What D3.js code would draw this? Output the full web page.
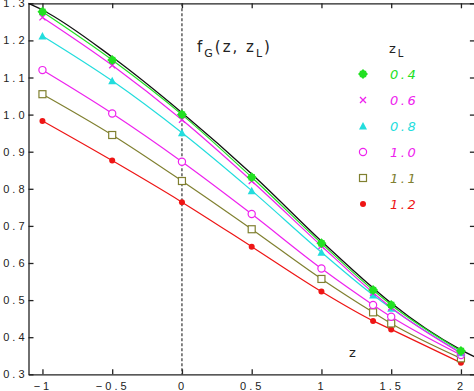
<!DOCTYPE html>
<html>
<head>
<meta charset="utf-8">
<script src="https://cdn.jsdelivr.net/npm/d3@7"></script>
<style>
  body { margin: 0; background: #fff; }
  svg { display: block; font-family: "DejaVu Sans", sans-serif; }
  .axis path, .axis line { stroke: #222; stroke-width: 1.3; }
  .axis text { font-size: 11px; fill: #222; letter-spacing: 3px; }
</style>
</head>
<body>
<div id="chart"></div>
<script>
// z values where each curve is sampled
var zPoints = [-1, -0.5, 0, 0.5, 1, 1.37, 1.5, 2];

// f_G(z, z_L) for each z_L
var zL04 = [1.277, 1.147, 1.000, 0.831, 0.653, 0.527, 0.487, 0.363];
var zL06 = [1.262, 1.133, 0.986, 0.821, 0.646, 0.520, 0.480, 0.357];
var zL08 = [1.212, 1.091, 0.951, 0.795, 0.629, 0.514, 0.478, 0.358];
var zL10 = [1.120, 1.003, 0.873, 0.732, 0.585, 0.487, 0.455, 0.352];
var zL11 = [1.055, 0.945, 0.821, 0.691, 0.557, 0.467, 0.437, 0.343];
var zL12 = [0.983, 0.876, 0.764, 0.644, 0.523, 0.444, 0.421, 0.331];

// black reference curve (no markers)
var refZ = [-1.1, -1, -0.5, 0, 0.5, 1, 1.37, 1.5, 2, 2.1];
var refF = [1.300, 1.282, 1.155, 1.005, 0.840, 0.659, 0.533, 0.492, 0.366, 0.347];

var legendLabels = ["0.4", "0.6", "0.8", "1.0", "1.1", "1.2"];
var xTicks = [-1, -0.5, 0, 0.5, 1, 1.5, 2];
var yTicks = [0.3, 0.4, 0.5, 0.6, 0.7, 0.8, 0.9, 1.0, 1.1, 1.2, 1.3];

var width = 474,
    height = 391;

var series = [
    { name: legendLabels[0], values: zL04, color: "#22e022", marker: "diamond" },
    { name: legendLabels[1], values: zL06, color: "#ee22ee", marker: "cross" },
    { name: legendLabels[2], values: zL08, color: "#22dddd", marker: "triangle" },
    { name: legendLabels[3], values: zL10, color: "#ee22ee", marker: "circle" },
    { name: legendLabels[4], values: zL11, color: "#808030", marker: "square" },
    { name: legendLabels[5], values: zL12, color: "#ee1515", marker: "dot" }
];

var x = d3.scaleLinear()
    .domain([-1.1, 2.1])
    .range([28.5, 474.9]);

var y = d3.scaleLinear()
    .domain([0.3, 1.3])
    .range([374.3, 3.3]);

var svg = d3.select("#chart").append("svg")
    .attr("width", width)
    .attr("height", height);

// axes, ticks pointing inward
svg.append("g").attr("class", "axis")
    .attr("transform", "translate(0," + y(0.3) + ")")
    .call(d3.axisBottom(x).tickValues(xTicks).tickSizeInner(-5).tickSizeOuter(0).tickPadding(8)
        .tickFormat(function(d) { return d3.format("")(d).replace("-", "\u2212"); }));

svg.append("g").attr("class", "axis")
    .attr("transform", "translate(0," + y(1.3) + ")")
    .call(d3.axisTop(x).tickValues(xTicks).tickSizeInner(-5).tickSizeOuter(0).tickFormat(""));

svg.append("g").attr("class", "axis")
    .attr("transform", "translate(" + x(-1.1) + ",0)")
    .call(d3.axisLeft(y).tickValues(yTicks).tickSizeInner(-5).tickSizeOuter(0).tickPadding(1)
        .tickFormat(d3.format(".1f")));

svg.append("g").attr("class", "axis")
    .attr("transform", "translate(" + x(2.1) + ",0)")
    .call(d3.axisRight(y).tickValues(yTicks).tickSizeInner(-5).tickSizeOuter(0).tickFormat(""));

svg.selectAll(".axis .domain").attr("fill", "none");

// dashed line at z = 0
svg.append("line")
    .attr("x1", x(0)).attr("x2", x(0))
    .attr("y1", y(1.3)).attr("y2", y(0.3))
    .attr("stroke", "#333")
    .attr("stroke-width", 1.2)
    .attr("stroke-dasharray", "3,2");

var line = d3.line()
    .x(function(d) { return x(d[0]); })
    .y(function(d) { return y(d[1]); })
    .curve(d3.curveMonotoneX);

// black curve
svg.append("path")
    .datum(d3.zip(refZ, refF))
    .attr("d", line)
    .attr("fill", "none")
    .attr("stroke", "#111")
    .attr("stroke-width", 1.3);

function drawMarker(g, type, color) {
    if (type === "diamond") {
        g.append("path").attr("d", "M0,-5L5,0L0,5L-5,0Z").attr("fill", color);
        g.append("rect").attr("x", -3.2).attr("y", -3.2).attr("width", 6.4).attr("height", 6.4).attr("fill", color);
    } else if (type === "cross") {
        g.append("path").attr("d", "M-3,-3L3,3M-3,3L3,-3").attr("stroke", color).attr("stroke-width", 1.3);
    } else if (type === "triangle") {
        g.append("path").attr("d", "M0,-4L4,3.5L-4,3.5Z").attr("fill", color);
    } else if (type === "circle") {
        g.append("circle").attr("r", 3.6).attr("fill", "#fff").attr("stroke", color).attr("stroke-width", 1.2);
    } else if (type === "square") {
        g.append("rect").attr("x", -3.5).attr("y", -3.5).attr("width", 7).attr("height", 7)
            .attr("fill", "#fff").attr("stroke", color).attr("stroke-width", 1.2);
    } else {
        g.append("circle").attr("r", 3).attr("fill", color);
    }
}

// draw from bottom series up so green sits on top
series.slice().reverse().forEach(function(s) {
    var pts = d3.zip(zPoints, s.values);
    svg.append("path")
        .datum(pts)
        .attr("d", line)
        .attr("fill", "none")
        .attr("stroke", s.color)
        .attr("stroke-width", 1.2);
});

series.slice().reverse().forEach(function(s) {
    var pts = d3.zip(zPoints, s.values);
    pts.forEach(function(p) {
        var g = svg.append("g").attr("transform", "translate(" + x(p[0]) + "," + y(p[1]) + ")");
        drawMarker(g, s.marker, s.color);
    });
});

// function label
var fl = svg.append("text")
    .attr("x", 197).attr("y", 52)
    .attr("font-size", 15)
    .attr("letter-spacing", 2)
    .attr("fill", "#222");
fl.append("tspan").text("f");
fl.append("tspan").attr("font-size", 11).attr("dy", 5).text("G");
fl.append("tspan").attr("dy", -5).text("(z, z");
fl.append("tspan").attr("font-size", 11).attr("dy", 5).text("L");
fl.append("tspan").attr("dy", -5).text(")");

// legend
var lt = svg.append("text")
    .attr("x", 389).attr("y", 53)
    .attr("font-size", 13)
    .attr("fill", "#222");
lt.append("tspan").text("z");
lt.append("tspan").attr("font-size", 10).attr("dy", 4).attr("dx", 2).text("L");

var legend = svg.append("g").attr("transform", "translate(0,74)");
series.forEach(function(s, i) {
    var row = legend.append("g").attr("transform", "translate(0," + (i * 26) + ")");
    var m = row.append("g").attr("transform", "translate(363,0)");
    drawMarker(m, s.marker, s.color);
    row.append("text")
        .attr("x", 390).attr("y", 5)
        .attr("font-size", 13)
        .attr("font-style", "italic")
        .attr("letter-spacing", 2.5)
        .attr("fill", s.color)
        .text(s.name);
});

// z axis label
svg.append("text")
    .attr("x", 349).attr("y", 357)
    .attr("font-size", 13)
    .attr("fill", "#222")
    .text("z");
</script>
</body>
</html>
